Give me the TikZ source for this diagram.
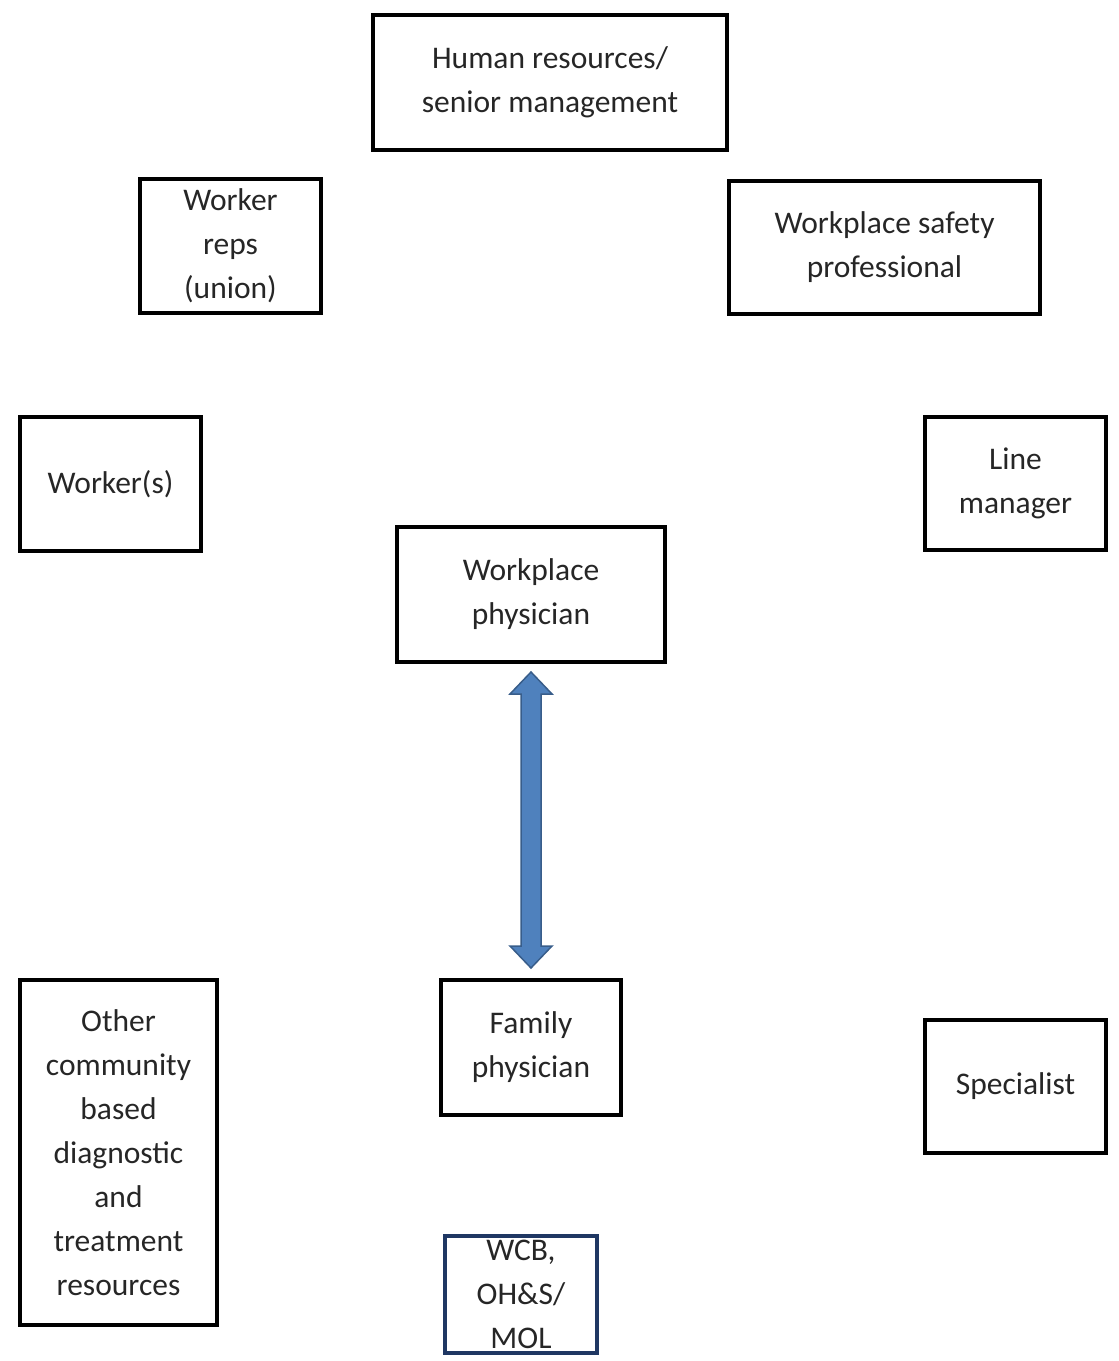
\documentclass[tikz,border=0pt]{standalone}
\usepackage{fontspec}
\setmainfont{Carlito}
\usetikzlibrary{calc}
\definecolor{txt}{HTML}{262626}
\definecolor{navybox}{HTML}{1F3763}
\definecolor{arrowfill}{HTML}{4F81BD}
\definecolor{arrowedge}{HTML}{385D8A}
\tikzset{
  box/.style={draw=black, line width=4pt, inner sep=0pt, align=center,
    text=txt, font=\fontsize{31.5}{44}\selectfont,
    execute at begin node={\vspace*{7pt}}},
  navy/.style={box, draw=navybox},
  bigarrow/.style={fill=arrowfill, draw=arrowedge, line width=1.5pt, line join=miter}
}
\begin{document}
\begin{tikzpicture}[x=1pt,y=-1pt]
\useasboundingbox (0,0) rectangle (1119,1361);
\node[box, minimum width=354pt, minimum height=135pt] (hr) at (550,82.5) {Human resources/\\senior management};
\node[box, minimum width=181pt, minimum height=134pt] (reps) at (230.5,246) {Worker\\reps\\(union)};
\node[box, minimum width=311pt, minimum height=133pt] (safety) at (884.5,247.5) {Workplace safety\\professional};
\node[box, minimum width=181pt, minimum height=134pt] (workers) at (110.5,484) {Worker(s)};
\node[box, minimum width=181pt, minimum height=133pt] (linemgr) at (1015.5,483.5) {Line\\manager};
\node[box, minimum width=268pt, minimum height=135pt] (phys) at (531,594.5) {Workplace\\physician};
\node[box, minimum width=180pt, minimum height=135pt] (fam) at (531,1047.5) {Family\\physician};
\node[box, minimum width=197pt, minimum height=345pt] (other) at (118.5,1152.5) {Other\\community\\based\\diagnostic\\and\\treatment\\resources};
\node[box, minimum width=181pt, minimum height=133pt] (spec) at (1015.5,1086.5) {Specialist};
\node[navy, minimum width=152pt, minimum height=117pt] (wcb) at (521,1294.5) {WCB,\\OH\&S/\\MOL};
% double-headed arrow between the physicians
\coordinate (atop) at ($(phys.south)+(0,8)$);
\coordinate (abot) at ($(fam.north)+(0,-10)$);
\draw[bigarrow] (atop) -- ($(atop)+(21,22)$) -- ($(atop)+(10,22)$)
  -- ($(abot)+(10,-22)$) -- ($(abot)+(21,-22)$) -- (abot)
  -- ($(abot)+(-21,-22)$) -- ($(abot)+(-10,-22)$)
  -- ($(atop)+(-10,22)$) -- ($(atop)+(-21,22)$) -- cycle;
\end{tikzpicture}
\end{document}
